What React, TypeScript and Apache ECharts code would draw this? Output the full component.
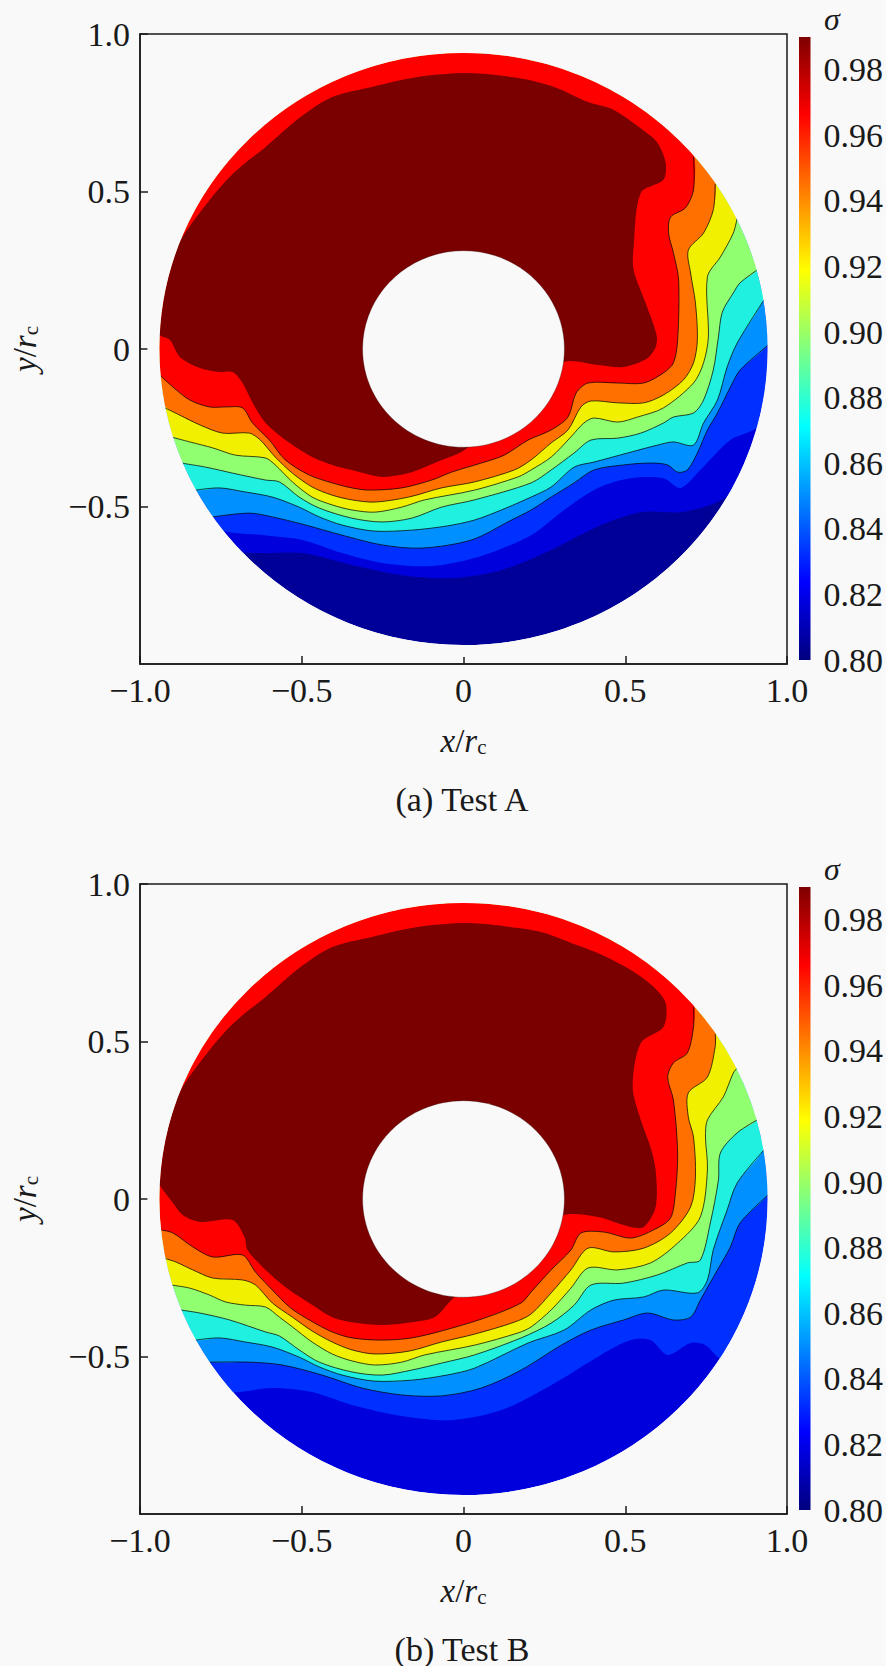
import React, { useEffect, useRef } from "react";
import * as echarts from "echarts";

type Pt = [number, number];

const OUTER_R = 0.94;
const INNER_R = 0.312;
const xTicks = { min: -1, max: 1, interval: 0.5 };
const colorbarRange: Pt[] = [[0, 0.8], [1, 0.99]];
const captions = ["(a) Test A", "(b) Test B"];
const colorbarTitle = "σ";

// fill of each band, lowest sigma first
const bandColors = ["#000098", "#0000dc", "#0030ff", "#0090ff", "#20f0e0", "#90ff70", "#f0f000", "#ff7000", "#ff0000", "#7a0000"];

// Test A: iso-lines, each runs from the outer wall, under the lower half, round to the outer wall
const a82: Pt[] = [[-0.683,-0.645],[-0.615,-0.648],[-0.498,-0.648],[-0.345,-0.686],[-0.191,-0.718],[-0.037,-0.727],[0.117,-0.702],[0.271,-0.638],[0.425,-0.559],[0.548,-0.518],[0.671,-0.518],[0.763,-0.495],[0.815,-0.464]];
const a84: Pt[] = [[-0.738,-0.575],[-0.615,-0.591],[-0.498,-0.606],[-0.375,-0.648],[-0.252,-0.679],[-0.098,-0.689],[0.055,-0.657],[0.209,-0.591],[0.311,-0.511],[0.415,-0.441],[0.517,-0.41],[0.618,-0.41],[0.671,-0.441],[0.732,-0.384],[0.825,-0.289],[0.908,-0.251]];
const a86: Pt[] = [[-0.775,-0.533],[-0.662,-0.521],[-0.591,-0.533],[-0.498,-0.556],[-0.375,-0.591],[-0.252,-0.622],[-0.129,-0.632],[0.025,-0.606],[0.148,-0.543],[0.209,-0.511],[0.271,-0.47],[0.342,-0.425],[0.403,-0.384],[0.495,-0.368],[0.578,-0.362],[0.631,-0.368],[0.662,-0.391],[0.692,-0.384],[0.723,-0.33],[0.754,-0.257],[0.785,-0.203],[0.825,-0.121],[0.855,-0.067],[0.942,0.013]];
const a88: Pt[] = [[-0.828,-0.448],[-0.754,-0.441],[-0.674,-0.454],[-0.591,-0.47],[-0.508,-0.502],[-0.446,-0.533],[-0.375,-0.559],[-0.277,-0.578],[-0.16,-0.575],[-0.052,-0.562],[0.034,-0.543],[0.117,-0.511],[0.209,-0.47],[0.271,-0.438],[0.342,-0.375],[0.403,-0.359],[0.508,-0.33],[0.6,-0.305],[0.649,-0.295],[0.711,-0.305],[0.742,-0.235],[0.785,-0.162],[0.815,-0.057],[0.846,0.019],[0.929,0.156]];
const a90: Pt[] = [[-0.874,-0.362],[-0.797,-0.375],[-0.714,-0.394],[-0.612,-0.416],[-0.569,-0.422],[-0.508,-0.47],[-0.446,-0.505],[-0.345,-0.537],[-0.252,-0.549],[-0.16,-0.537],[-0.068,-0.502],[0.034,-0.479],[0.209,-0.425],[0.271,-0.384],[0.342,-0.33],[0.394,-0.289],[0.477,-0.283],[0.548,-0.267],[0.618,-0.235],[0.649,-0.216],[0.711,-0.203],[0.742,-0.162],[0.772,-0.067],[0.788,0.038],[0.8,0.117],[0.834,0.178],[0.855,0.21],[0.908,0.251]];
const a92: Pt[] = [[-0.905,-0.279],[-0.846,-0.295],[-0.775,-0.314],[-0.705,-0.337],[-0.612,-0.346],[-0.582,-0.368],[-0.529,-0.422],[-0.468,-0.47],[-0.406,-0.495],[-0.345,-0.511],[-0.274,-0.518],[-0.191,-0.502],[-0.12,-0.479],[0.034,-0.448],[0.169,-0.406],[0.209,-0.384],[0.271,-0.343],[0.332,-0.279],[0.372,-0.235],[0.403,-0.219],[0.477,-0.232],[0.538,-0.216],[0.618,-0.187],[0.711,-0.108],[0.742,-0.044],[0.757,0.038],[0.754,0.229],[0.794,0.292],[0.834,0.368],[0.846,0.416]];
const a94: Pt[] = [[-0.929,-0.184],[-0.877,-0.21],[-0.815,-0.241],[-0.745,-0.267],[-0.662,-0.267],[-0.628,-0.289],[-0.582,-0.343],[-0.529,-0.394],[-0.468,-0.438],[-0.406,-0.464],[-0.345,-0.479],[-0.274,-0.486],[-0.169,-0.47],[-0.068,-0.441],[0.034,-0.422],[0.157,-0.384],[0.209,-0.352],[0.271,-0.298],[0.323,-0.257],[0.363,-0.184],[0.394,-0.165],[0.477,-0.171],[0.557,-0.171],[0.618,-0.146],[0.68,-0.098],[0.711,-0.044],[0.723,0.029],[0.717,0.146],[0.702,0.241],[0.695,0.314],[0.742,0.368],[0.772,0.441],[0.778,0.524]];
const a96: Pt[] = [[-0.935,-0.086],[-0.898,-0.121],[-0.846,-0.162],[-0.785,-0.184],[-0.735,-0.184],[-0.683,-0.187],[-0.652,-0.235],[-0.6,-0.289],[-0.551,-0.352],[-0.477,-0.4],[-0.406,-0.425],[-0.345,-0.441],[-0.292,-0.448],[-0.191,-0.441],[-0.098,-0.416],[-0.037,-0.391],[0.055,-0.362],[0.126,-0.337],[0.2,-0.289],[0.271,-0.257],[0.323,-0.216],[0.348,-0.14],[0.385,-0.108],[0.477,-0.108],[0.557,-0.108],[0.618,-0.076],[0.649,-0.044],[0.662,0.029],[0.665,0.219],[0.649,0.305],[0.634,0.368],[0.64,0.419],[0.686,0.448],[0.711,0.505],[0.711,0.61]];
const a98: Pt[] = [[-0.945,0.044],[-0.908,0.029],[-0.877,-0.025],[-0.815,-0.06],[-0.754,-0.073],[-0.714,-0.073],[-0.683,-0.108],[-0.652,-0.171],[-0.612,-0.235],[-0.538,-0.298],[-0.468,-0.343],[-0.406,-0.368],[-0.345,-0.384],[-0.252,-0.406],[-0.169,-0.394],[-0.089,-0.362],[0.003,-0.321],[0.086,-0.241],[0.209,-0.114],[0.311,-0.041],[0.415,-0.051],[0.495,-0.057],[0.569,-0.029],[0.594,0.006],[0.597,0.044],[0.563,0.146],[0.526,0.251],[0.526,0.324],[0.548,0.495],[0.618,0.537],[0.625,0.591],[0.6,0.654],[0.563,0.689],[0.465,0.759],[0.385,0.784],[0.28,0.832],[0.169,0.86],[0.015,0.876],[-0.138,0.864],[-0.283,0.832],[-0.406,0.8],[-0.508,0.733],[-0.612,0.641],[-0.674,0.591],[-0.723,0.546],[-0.785,0.473],[-0.837,0.403],[-0.874,0.346]];

// Test B
const b84: Pt[] = [[-0.711,-0.613],[-0.591,-0.6],[-0.468,-0.613],[-0.345,-0.654],[-0.191,-0.689],[-0.037,-0.702],[0.117,-0.67],[0.271,-0.591],[0.425,-0.495],[0.517,-0.448],[0.578,-0.448],[0.631,-0.495],[0.702,-0.457],[0.748,-0.464],[0.794,-0.505]];
const b86: Pt[] = [[-0.785,-0.518],[-0.662,-0.518],[-0.56,-0.527],[-0.437,-0.559],[-0.314,-0.6],[-0.191,-0.622],[-0.068,-0.625],[0.055,-0.6],[0.178,-0.543],[0.302,-0.464],[0.394,-0.416],[0.495,-0.384],[0.569,-0.362],[0.649,-0.384],[0.702,-0.375],[0.732,-0.321],[0.785,-0.225],[0.825,-0.152],[0.855,-0.076],[0.942,0.013]];
const b88: Pt[] = [[-0.828,-0.448],[-0.754,-0.441],[-0.674,-0.454],[-0.591,-0.47],[-0.508,-0.502],[-0.446,-0.533],[-0.375,-0.559],[-0.277,-0.578],[-0.16,-0.575],[-0.052,-0.559],[0.034,-0.537],[0.2,-0.457],[0.311,-0.416],[0.394,-0.352],[0.465,-0.321],[0.557,-0.311],[0.618,-0.289],[0.723,-0.298],[0.754,-0.257],[0.772,-0.162],[0.815,-0.035],[0.846,0.051],[0.929,0.156]];
const b90: Pt[] = [[-0.877,-0.352],[-0.815,-0.362],[-0.723,-0.384],[-0.612,-0.422],[-0.569,-0.435],[-0.508,-0.479],[-0.446,-0.518],[-0.345,-0.549],[-0.252,-0.559],[-0.16,-0.543],[-0.068,-0.521],[0.034,-0.495],[0.178,-0.441],[0.271,-0.394],[0.342,-0.337],[0.394,-0.273],[0.495,-0.267],[0.6,-0.241],[0.692,-0.203],[0.732,-0.194],[0.763,-0.076],[0.788,0.06],[0.794,0.146],[0.846,0.21],[0.908,0.251]];
const b92: Pt[] = [[-0.905,-0.273],[-0.846,-0.283],[-0.785,-0.305],[-0.735,-0.327],[-0.674,-0.337],[-0.612,-0.343],[-0.569,-0.375],[-0.529,-0.406],[-0.468,-0.454],[-0.406,-0.492],[-0.345,-0.514],[-0.274,-0.527],[-0.191,-0.518],[-0.12,-0.495],[0.034,-0.464],[0.169,-0.425],[0.209,-0.406],[0.271,-0.352],[0.332,-0.283],[0.385,-0.219],[0.477,-0.225],[0.578,-0.203],[0.662,-0.14],[0.732,-0.057],[0.754,0.092],[0.748,0.197],[0.754,0.251],[0.803,0.324],[0.834,0.4],[0.846,0.416]];
const b94: Pt[] = [[-0.929,-0.187],[-0.889,-0.2],[-0.837,-0.225],[-0.775,-0.251],[-0.683,-0.257],[-0.643,-0.273],[-0.591,-0.33],[-0.529,-0.375],[-0.468,-0.419],[-0.406,-0.454],[-0.345,-0.479],[-0.274,-0.492],[-0.169,-0.483],[-0.068,-0.454],[0.034,-0.429],[0.157,-0.391],[0.209,-0.365],[0.271,-0.298],[0.332,-0.225],[0.385,-0.156],[0.465,-0.168],[0.557,-0.156],[0.64,-0.108],[0.702,-0.025],[0.717,0.07],[0.711,0.197],[0.695,0.26],[0.695,0.337],[0.754,0.387],[0.778,0.483],[0.778,0.524]];
const b96: Pt[] = [[-0.935,-0.098],[-0.898,-0.108],[-0.837,-0.152],[-0.775,-0.184],[-0.683,-0.178],[-0.643,-0.232],[-0.591,-0.289],[-0.538,-0.343],[-0.477,-0.384],[-0.406,-0.422],[-0.345,-0.441],[-0.252,-0.448],[-0.16,-0.441],[-0.068,-0.419],[0.065,-0.378],[0.178,-0.33],[0.209,-0.295],[0.271,-0.225],[0.332,-0.162],[0.363,-0.108],[0.434,-0.105],[0.517,-0.124],[0.588,-0.098],[0.64,-0.06],[0.655,0.019],[0.662,0.146],[0.649,0.314],[0.631,0.387],[0.649,0.432],[0.692,0.464],[0.711,0.546],[0.711,0.61]];
const b98: Pt[] = [[-0.945,0.044],[-0.898,-0.013],[-0.868,-0.051],[-0.815,-0.073],[-0.714,-0.067],[-0.677,-0.121],[-0.668,-0.162],[-0.612,-0.225],[-0.551,-0.279],[-0.477,-0.33],[-0.406,-0.375],[-0.345,-0.391],[-0.252,-0.4],[-0.16,-0.391],[-0.089,-0.375],[-0.046,-0.33],[0.025,-0.257],[0.178,-0.13],[0.311,-0.051],[0.415,-0.057],[0.517,-0.089],[0.557,-0.089],[0.594,-0.025],[0.594,0.092],[0.578,0.165],[0.548,0.251],[0.523,0.356],[0.548,0.495],[0.618,0.546],[0.625,0.622],[0.588,0.673],[0.517,0.727],[0.415,0.781],[0.332,0.813],[0.249,0.845],[0.169,0.86],[0.015,0.876],[-0.138,0.864],[-0.283,0.832],[-0.406,0.8],[-0.508,0.733],[-0.612,0.641],[-0.674,0.591],[-0.723,0.546],[-0.785,0.473],[-0.837,0.403],[-0.874,0.346]];

const plotA = { base: 0, lines: [a82, a84, a86, a88, a90, a92, a94, a96, a98] };
const plotB = { base: 1, lines: [b84, b86, b88, b90, b92, b94, b96, b98] };

const SERIF = "Liberation Serif";
const INK = "#1a1a1a";
const PAGE = "#f9f9f9";
const TICK_SIZE = 34;
const GRID_TOPS = [34, 884];
const GRID_H = 630;
const SMOOTH = 0.3;

function snap([x, y]: Pt): Pt {
  const k = OUTER_R / Math.hypot(x, y);
  return [x * k, y * k];
}

// closes a line along the outer wall, counter-clockwise from its end back to its start
function closeAlongWall(line: Pt[]): Pt[] {
  const first = snap(line[0]);
  const last = snap(line[line.length - 1]);
  const a0 = Math.atan2(last[1], last[0]);
  let a1 = Math.atan2(first[1], first[0]);
  while (a1 < a0) a1 += Math.PI * 2;
  const out: Pt[] = [first, ...line.slice(1, -1), last];
  for (let a = a0 + 0.04; a < a1; a += 0.04) out.push([OUTER_R * Math.cos(a), OUTER_R * Math.sin(a)]);
  return out;
}

function discSeries(axis: number, z: number, r: number, fill: string, stroke: string | null) {
  return {
    type: "custom", xAxisIndex: axis, yAxisIndex: axis, z, silent: true, clip: false,
    data: [[0, 0]],
    renderItem: (_p: any, api: any) => {
      const c = api.coord([0, 0]);
      const s = api.size([r, r]);
      return { type: "ellipse", shape: { cx: c[0], cy: c[1], rx: s[0], ry: s[1] }, style: { fill, stroke, lineWidth: 0.7 } };
    },
  };
}

// keeps the rounded corners of the smoothed bands inside the outer wall
function wallMask(axis: number) {
  return {
    type: "custom", xAxisIndex: axis, yAxisIndex: axis, z: 19, silent: true, clip: false,
    data: [[0, 0]],
    renderItem: (_p: any, api: any) => {
      const c = api.coord([0, 0]);
      const s = api.size([OUTER_R, OUTER_R]);
      return { type: "ellipse", shape: { cx: c[0], cy: c[1], rx: s[0] + 6, ry: s[1] + 6 }, style: { fill: null, stroke: PAGE, lineWidth: 12 } };
    },
  };
}

function plotSeries(axis: number, plot: { base: number; lines: Pt[][] }) {
  const out: any[] = [discSeries(axis, 2, OUTER_R, bandColors[plot.base], null)];
  plot.lines.forEach((line, i) => {
    const band = plot.base + i + 1;
    const stroked = band >= 3 && band <= 8;
    const poly = closeAlongWall(line);
    out.push({
      type: "custom", xAxisIndex: axis, yAxisIndex: axis, z: 3 + i, silent: true, clip: false,
      data: line,
      renderItem: (p: any, api: any) => {
        if (p.dataIndex !== 0) return null;
        const children: any[] = [{
          type: "polygon",
          shape: { points: poly.map((q) => api.coord(q)), smooth: SMOOTH },
          style: { fill: bandColors[band], stroke: null },
        }];
        if (stroked) {
          children.push({
            type: "polyline",
            shape: { points: line.map((q) => api.coord(q)), smooth: SMOOTH },
            style: { fill: null, stroke: "rgba(0,0,0,0.8)", lineWidth: 0.9 },
          });
        }
        return { type: "group", children };
      },
    });
  });
  out.push(wallMask(axis));
  out.push(discSeries(axis, 20, INNER_R, PAGE, "rgba(40,0,0,0.45)"));
  return out;
}

function colorbarSeries(axis: number) {
  return {
    type: "custom", xAxisIndex: axis, yAxisIndex: axis, z: 2, silent: true, clip: false,
    data: colorbarRange,
    renderItem: (p: any, api: any) => {
      if (p.dataIndex !== 0) return null;
      const a = api.coord([0, colorbarRange[1][1]]);
      const b = api.coord([1, colorbarRange[0][1]]);
      return {
        type: "rect",
        shape: { x: a[0], y: a[1], width: b[0] - a[0], height: b[1] - a[1] },
        style: {
          stroke: null,
          fill: new echarts.graphic.LinearGradient(0, 0, 0, 1, [
            { offset: 0, color: "#7f0000" },
            { offset: 0.125, color: "#ff0000" },
            { offset: 0.375, color: "#ffff00" },
            { offset: 0.625, color: "#00ffff" },
            { offset: 0.875, color: "#0000ff" },
            { offset: 1, color: "#00007f" },
          ]),
        },
      };
    },
  };
}

const axisName = (v: string) => `{i|${v}}{n|/}{i|r}{s|c}`;
const nameRich = {
  i: { fontFamily: SERIF, fontStyle: "italic", fontSize: 33, color: INK },
  n: { fontFamily: SERIF, fontSize: 33, color: INK },
  s: { fontFamily: SERIF, fontSize: 21, color: INK, verticalAlign: "bottom", padding: [12, 0, 0, 0] },
};
const fmtTick = (v: number) => (v === 0 ? "0" : (v < 0 ? "\u2212" : "") + Math.abs(v).toFixed(1));

function buildOption() {
  const grids: any[] = [];
  const xAxes: any[] = [];
  const yAxes: any[] = [];
  const base = {
    axisTick: { inside: true, length: 8, lineStyle: { color: INK, width: 1.5 } },
    axisLine: { onZero: false, lineStyle: { color: INK, width: 1.5 } },
    splitLine: { show: false },
  };
  GRID_TOPS.forEach((top) => {
    grids.push({ left: 137, top, width: 650, height: GRID_H, show: true, borderColor: INK, borderWidth: 1.5, backgroundColor: "transparent" });
    grids.push({ left: 799, top: top + 3, width: 12, height: 623 });
  });
  for (let g = 0; g < 4; g += 2) {
    xAxes.push({
      ...base, type: "value", gridIndex: g, ...xTicks,
      axisLabel: { formatter: fmtTick, fontFamily: SERIF, fontSize: TICK_SIZE, color: INK, margin: 9 },
      name: axisName("x"), nameLocation: "middle", nameGap: 60, nameTextStyle: { rich: nameRich },
    });
    yAxes.push({
      ...base, type: "value", gridIndex: g, ...xTicks,
      axisLabel: { formatter: fmtTick, fontFamily: SERIF, fontSize: TICK_SIZE, color: INK, margin: 10, showMinLabel: false },
      name: axisName("y"), nameLocation: "middle", nameRotate: 90, nameGap: 99, nameTextStyle: { rich: nameRich },
    });
    xAxes.push({ type: "value", gridIndex: g + 1, min: 0, max: 1, show: false });
    yAxes.push({
      type: "value", gridIndex: g + 1, position: "right", min: 0.8, max: 0.99, interval: 0.02,
      axisLine: { show: false }, axisTick: { show: false }, splitLine: { show: false },
      axisLabel: { formatter: (v: number) => v.toFixed(2), fontFamily: SERIF, fontSize: TICK_SIZE, color: INK, margin: 13, showMaxLabel: false },
    });
  }
  const graphic = [
    ...captions.map((text, i) => ({
      type: "text", x: 462, y: GRID_TOPS[i] + 765, silent: true,
      style: { text, fontFamily: SERIF, fontSize: 34, fill: INK, textAlign: "center", textVerticalAlign: "middle" },
    })),
    ...GRID_TOPS.map((top) => ({
      type: "text", x: 832, y: top - 15, silent: true,
      style: { text: colorbarTitle, fontFamily: SERIF, fontStyle: "italic", fontSize: 32, fill: INK, textAlign: "center", textVerticalAlign: "middle" },
    })),
  ];
  return {
    animation: false,
    backgroundColor: PAGE,
    grid: grids,
    xAxis: xAxes,
    yAxis: yAxes,
    graphic,
    series: [...plotSeries(0, plotA), colorbarSeries(1), ...plotSeries(2, plotB), colorbarSeries(3)],
  };
}

export default function App() {
  const ref = useRef<HTMLDivElement>(null);
  useEffect(() => {
    document.body.style.margin = "0";
    const chart = echarts.init(ref.current!, undefined, { renderer: "svg" });
    chart.setOption(buildOption() as any);
    return () => chart.dispose();
  }, []);
  return <div ref={ref} style={{ width: 886, height: 1666 }} />;
}
